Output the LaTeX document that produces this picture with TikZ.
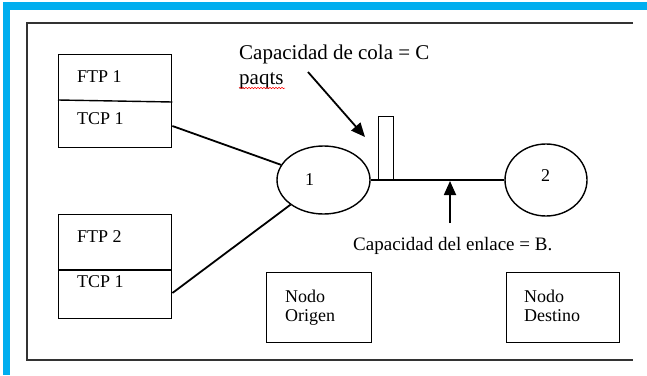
\documentclass[tikz,border=0pt]{standalone}
\usepackage{fontspec}
\setmainfont{Liberation Serif}
\usetikzlibrary{shapes.geometric,arrows.meta,decorations.pathmorphing,calc}
\definecolor{cyanband}{HTML}{00AEEF}
\definecolor{framegray}{HTML}{333333}
\begin{document}
\begin{tikzpicture}[x=1pt,y=-1pt,
  txt/.style={anchor=base west,inner sep=0pt,font=\rmfamily\fontsize{18}{21}\selectfont},
  bigtxt/.style={anchor=base west,inner sep=0pt,font=\rmfamily\fontsize{21}{25}\selectfont},
  midtxt/.style={anchor=base west,inner sep=0pt,font=\rmfamily\fontsize{19}{22}\selectfont},
  box/.style={draw,line width=1.4pt,rectangle,inner sep=0pt,anchor=north west},
  ell/.style={draw,ellipse,line width=1.4pt,inner sep=0pt},
  conn/.style={line width=1.8pt},
  tip/.style={-{Triangle[length=14pt,width=12pt]}}
]
\useasboundingbox (0,0) rectangle (647,375);
% cyan page border
\fill[cyanband] (3,2) rectangle (647,10);
\fill[cyanband] (3,2) rectangle (10,375);
% frame
\draw[framegray,line width=1.8pt] (633,23) -- (27,23) -- (27,360) -- (633,360);

% protocol boxes
\node[box,minimum width=113pt,minimum height=93pt] (b1) at (58,54) {};
\draw[line width=1.4pt] ($(b1.north west)+(0,46)$) -- ($(b1.north east)+(0,48)$);
\node[box,minimum width=113pt,minimum height=104pt] (b2) at (58,214) {};
\draw[line width=1.4pt] ($(b2.north west)+(0,56)$) -- ($(b2.north east)+(0,56)$);
\node[txt] (f1) at (77,82) {FTP 1};
\node[txt] (t1) at (77,124) {TCP 1};
\node[txt] (f2) at (77,242) {FTP 2};
\node[txt] (t2) at (77,287) {TCP 1};

% network nodes
\node[ell,minimum width=93pt,minimum height=68pt] (n1) at (323.5,180) {};
\node[txt] (l1) at (305,185) {1};
\node[ell,minimum width=82pt,minimum height=72pt] (n2) at (546,180) {};
\node[txt] (l2) at (541,181) {2};

% queue
\node[box,minimum width=15pt,minimum height=64pt] (q) at (378,116) {};

% connectors
\draw[conn] ($(b1.north east)+(0,72)$) -- (n1);
\draw[conn] ($(b2.north east)+(0,79)$) -- (n1);
\draw[conn] (n1.east) -- (n2.west);

% annotations
\node[bigtxt] (cap) at (239,59) {Capacidad de cola = C};
\node[bigtxt] (paq) at (239,84) {paqts};
\draw[red,line width=0.5pt,decorate,decoration={snake,segment length=3pt,amplitude=0.7pt}] (239,88) -- (285,88);
\coordinate (cqs) at (308,72);
\coordinate (cqt) at (365,137);
\draw[conn,tip] (cqs) -- (cqt);

\node[midtxt] (enl) at (353,250) {Capacidad del enlace = B.};
\coordinate (lbs) at (450,223);
\coordinate (lbt) at (450,181);
\draw[conn,tip] (lbs) -- (lbt);

% origin / destination boxes
\node[box,minimum width=105pt,minimum height=70pt] (o) at (266,272) {};
\node[txt] (o1) at (285,302) {Nodo};
\node[txt] (o2) at (285,321) {Origen};
\node[box,minimum width=113pt,minimum height=70pt] (d) at (506,272) {};
\node[txt] (d1) at (524,302) {Nodo};
\node[txt] (d2) at (524,321) {Destino};
\end{tikzpicture}
\end{document}
